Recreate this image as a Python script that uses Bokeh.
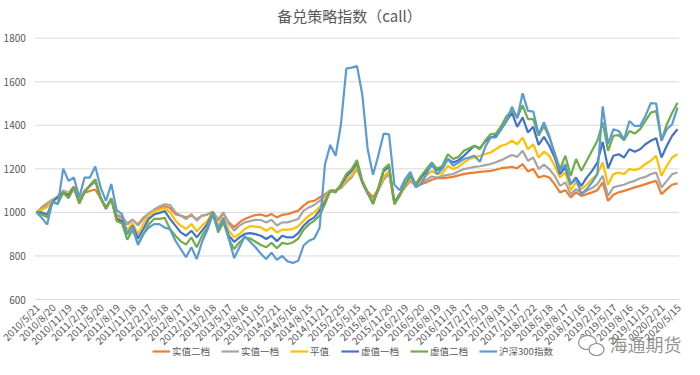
import math
from bokeh.plotting import figure
from bokeh.models import Legend, LegendItem, Label, Range1d
from bokeh.core.properties import value
from bokeh.embed import file_html
from bokeh.resources import INLINE

# ---------------- data ----------------
tick_labels = [
    "2010/5/21", "2010/8/20", "2010/11/19", "2011/2/18", "2011/5/20", "2011/8/19",
    "2011/11/18", "2012/2/17", "2012/5/18", "2012/8/17", "2012/11/16", "2013/2/18",
    "2013/5/17", "2013/8/16", "2013/11/15", "2014/2/21", "2014/5/16", "2014/8/15",
    "2014/11/21", "2015/2/25", "2015/5/15", "2015/8/21", "2015/11/20", "2016/2/19",
    "2016/5/20", "2016/8/19", "2016/11/18", "2017/2/17", "2017/5/19", "2017/8/18",
    "2017/11/17", "2018/2/22", "2018/5/18", "2018/8/17", "2018/11/16", "2019/2/15",
    "2019/5/17", "2019/8/16", "2019/11/15", "2020/2/21", "2020/5/15",
]
label_step = 3

series_names = ["实值二档", "实值一档", "平值", "虚值一档", "虚值二档", "沪深300指数"]

itm2 = [
    1000, 1020, 1035, 1055, 1070, 1092, 1085, 1110, 1055, 1090,
    1098, 1105, 1065, 1020, 1060, 985, 975, 945, 965, 945,
    975, 995, 1008, 1018, 1028, 1020, 992, 985, 977, 985,
    969, 985, 990, 1003, 962, 995, 954, 931, 954, 970,
    980, 988, 990, 982, 992, 977, 989, 992, 1000, 1008,
    1031, 1049, 1053, 1069, 1084, 1100, 1102, 1112, 1140, 1165,
    1200, 1140, 1095, 1069, 1107, 1160, 1183, 1038, 1084, 1115,
    1145, 1122, 1130, 1138, 1150, 1157, 1157, 1160, 1163, 1170,
    1176, 1180, 1183, 1186, 1188, 1191, 1196, 1203, 1206, 1209,
    1203, 1222, 1188, 1199, 1160, 1168, 1160, 1130, 1092, 1102,
    1069, 1092, 1076, 1084, 1092, 1102, 1138, 1053, 1081, 1092,
    1099, 1107, 1115, 1122, 1130, 1138, 1145, 1084, 1107, 1127, 1133,
]
itm1 = [
    1000, 1025, 1042, 1060, 1075, 1100, 1090, 1120, 1055, 1100,
    1120, 1140, 1070, 1025, 1065, 990, 980, 950, 968, 940,
    968, 995, 1012, 1028, 1037, 1034, 1000, 985, 969, 992,
    962, 985, 990, 1003, 969, 1000, 947, 916, 939, 954,
    960, 966, 965, 954, 966, 940, 954, 954, 962, 970,
    1008, 1023, 1034, 1053, 1076, 1100, 1102, 1115, 1140, 1160,
    1205, 1135, 1085, 1060, 1100, 1150, 1180, 1045, 1085, 1120,
    1150, 1120, 1135, 1150, 1165, 1160, 1168, 1172, 1176, 1188,
    1199, 1204, 1209, 1212, 1217, 1222, 1230, 1240, 1252, 1264,
    1255, 1283, 1237, 1252, 1199, 1219, 1199, 1168, 1122, 1138,
    1084, 1107, 1087, 1099, 1112, 1130, 1168, 1076, 1115, 1122,
    1127, 1138, 1145, 1157, 1163, 1176, 1183, 1115, 1145, 1176, 1183,
]
atm = [
    1000, 1012, 1025, 1055, 1072, 1095, 1085, 1118, 1052, 1098,
    1122, 1148, 1068, 1020, 1062, 975, 965, 920, 950, 900,
    947, 985, 1003, 1013, 1020, 1000, 962, 939, 924, 947,
    913, 939, 962, 1000, 939, 977, 916, 885, 901, 924,
    937, 935, 931, 916, 931, 908, 921, 921, 924, 936,
    962, 985, 1000, 1023, 1061, 1099, 1100, 1120, 1150, 1170,
    1215, 1140, 1090, 1050, 1105, 1165, 1190, 1050, 1080, 1125,
    1160, 1120, 1145, 1170, 1190, 1175, 1180, 1214, 1199, 1210,
    1229, 1245, 1252, 1260, 1268, 1275, 1290, 1306, 1313, 1329,
    1313, 1344, 1290, 1313, 1252, 1279, 1260, 1214, 1160, 1183,
    1102, 1138, 1107, 1127, 1153, 1176, 1229, 1127, 1176, 1183,
    1176, 1199, 1194, 1203, 1222, 1237, 1260, 1168, 1214, 1252, 1267,
]
otm1 = [
    1000, 1000, 990, 1050, 1070, 1092, 1078, 1115, 1045, 1095,
    1122, 1150, 1066, 1018, 1062, 970, 960, 900, 940, 880,
    924, 970, 990, 998, 1006, 970, 939, 908, 893, 916,
    885, 916, 947, 1000, 924, 962, 893, 865, 885, 901,
    905, 900, 893, 878, 893, 868, 893, 885, 885, 905,
    939, 962, 977, 1008, 1046, 1099, 1095, 1125, 1165, 1190,
    1228, 1140, 1090, 1040, 1110, 1190, 1210, 1045, 1080, 1130,
    1170, 1125, 1160, 1190, 1215, 1195, 1205, 1245, 1229, 1240,
    1260, 1283, 1306, 1295, 1325, 1344, 1352, 1382, 1420, 1458,
    1393, 1436, 1367, 1393, 1310, 1347, 1306, 1252, 1176, 1206,
    1130, 1160, 1122, 1160, 1191, 1229, 1324, 1203, 1260, 1267,
    1252, 1290, 1279, 1290, 1313, 1329, 1341, 1252, 1306, 1352, 1382,
]
otm2 = [
    1000, 990, 978, 1045, 1040, 1090, 1065, 1112, 1040, 1092,
    1125, 1152, 1065, 1015, 1060, 960, 950, 875, 920, 855,
    900, 945, 970, 970, 975, 924, 893, 867, 852, 885,
    840, 893, 931, 1000, 908, 954, 878, 832, 863, 885,
    880, 865, 850, 840, 860, 835, 860, 855, 862, 880,
    920, 945, 962, 985, 1038, 1099, 1092, 1130, 1176, 1199,
    1240, 1145, 1092, 1038, 1115, 1199, 1222, 1038, 1076, 1130,
    1176, 1130, 1168, 1199, 1229, 1200, 1215, 1267, 1245, 1255,
    1283, 1295, 1306, 1290, 1330, 1359, 1362, 1397, 1443, 1466,
    1436, 1492, 1428, 1428, 1352, 1397, 1344, 1275, 1199, 1260,
    1168, 1245, 1191, 1237, 1283, 1329, 1413, 1283, 1352, 1355,
    1332, 1374, 1362, 1382, 1420, 1458, 1466, 1329, 1405, 1458, 1504,
]
hs300 = [
    1000, 975, 944, 1053, 1038, 1201, 1145, 1160, 1069, 1160,
    1160, 1211, 1115, 1053, 1130, 1011, 992, 901, 939, 850,
    900, 930, 946, 946, 930, 923, 870, 832, 794, 840,
    786, 865, 920, 990, 920, 975, 880, 790, 840, 890,
    865, 840, 810, 786, 815, 782, 800, 775, 768, 778,
    848, 870, 880, 930, 1220, 1310, 1260, 1405, 1660, 1665,
    1672, 1540, 1290, 1173, 1262, 1362, 1358, 1127, 1102, 1153,
    1186, 1115, 1130, 1175, 1224, 1176, 1200, 1245, 1214, 1229,
    1245, 1252, 1260, 1232, 1300, 1344, 1344, 1382, 1420, 1485,
    1432, 1547, 1466, 1463, 1359, 1413, 1352, 1267, 1191, 1222,
    1130, 1153, 1084, 1107, 1138, 1176, 1487, 1313, 1382, 1374,
    1336, 1420, 1397, 1397, 1443, 1502, 1500, 1329, 1382, 1405, 1481,
]

y_ticks = [600, 800, 1000, 1200, 1400, 1600, 1800]

# ---------------- layout / styling ----------------
colors = ["#ED7D31", "#A5A5A5", "#FFC000", "#4472C4", "#70AD47", "#5B9BD5"]
FONT = "Noto Sans CJK SC"
TXT = "#595959"

W, H = 684, 359
first_pt_px, last_pt_px = 36.0, 677.0        # screen columns of first / last category
grid_top_px, grid_bottom_px = 37.7, 299.0    # screen rows of the top / bottom grid lines
grid_left_px, grid_right_px = 34.3, 678.5

n = len(hs300)
xs = list(range(n))
px_per_cat = (last_pt_px - first_pt_px) / (n - 1)
x_lo = -first_pt_px / px_per_cat
x_hi = x_lo + W / px_per_cat
units_per_px = (y_ticks[-1] - y_ticks[0]) / (grid_bottom_px - grid_top_px)
y_lo = y_ticks[0] - (H - grid_bottom_px) * units_per_px
y_hi = y_ticks[-1] + grid_top_px * units_per_px


def px2x(px):
    return x_lo + px / px_per_cat


def py2y(py):
    return y_hi - py * units_per_px


all_series = [itm2, itm1, atm, otm1, otm2, hs300]

p = figure(width=W, height=H, output_backend="svg", toolbar_location=None,
           title=None, x_axis_location=None, y_axis_location=None,
           x_range=Range1d(x_lo, x_hi), y_range=Range1d(y_lo, y_hi),
           min_border_left=0, min_border_right=0, min_border_top=0, min_border_bottom=0)

p.outline_line_color = None
p.background_fill_color = "white"
p.border_fill_color = "white"
p.xgrid.visible = False
p.ygrid.visible = False

# horizontal grid lines at the value ticks
g_left, g_right = px2x(grid_left_px), px2x(grid_right_px)
p.segment(x0=[g_left] * len(y_ticks), x1=[g_right] * len(y_ticks), y0=y_ticks, y1=y_ticks,
          line_color="#D9D9D9", line_width=1)

# value labels
p.text(x=[g_left] * len(y_ticks), y=y_ticks, text=[str(v) for v in y_ticks],
       text_align="right", text_baseline="middle", x_offset=-9,
       text_font=value(FONT), text_font_size=value("10px"), text_color=TXT)

# category (date) labels under the bottom grid line, rotated 45 degrees
tick_pos = list(range(0, n, label_step))
p.text(x=tick_pos, y=[y_ticks[0]] * len(tick_pos), text=tick_labels,
       angle=math.pi / 4, text_align="right", text_baseline="middle",
       x_offset=1, y_offset=6,
       text_font=value(FONT), text_font_size=value("10px"), text_color=TXT)

items = []
for name, vals, col in zip(series_names, all_series, colors):
    r = p.line(xs, vals, line_color=col, line_width=2.2)
    items.append(LegendItem(label=name, renderers=[r]))

legend = Legend(items=items, orientation="horizontal", location=(152, 1),
                label_text_font=FONT, label_text_font_size="9.5px", label_text_color=TXT,
                glyph_width=18, glyph_height=10, label_standoff=2, spacing=11,
                padding=1, margin=0, border_line_color=None, background_fill_alpha=0)
p.add_layout(legend)

title = Label(x=349, y=H - 15, x_units="screen", y_units="screen",
              text="备兑策略指数（call）", text_font=FONT, text_font_size="15px",
              text_color=TXT, text_align="center", text_baseline="middle")
p.add_layout(title)

# watermark (WeChat-style bubbles + account name)
p.ellipse(x=[px2x(587), px2x(596)], y=[py2y(342), py2y(349)], width=[18, 15], height=[14, 12],
          width_units="screen", height_units="screen",
          fill_color="white", fill_alpha=0.9, line_color="#8C8C8C", line_width=1.2)
wm = Label(x=609, y=H - 343, x_units="screen", y_units="screen", text="海通期货",
           text_font=FONT, text_font_size="18px", text_color="#7F7F7F",
           text_alpha=0.85, text_baseline="middle", text_align="left")
p.add_layout(wm)

open("out.html", "w").write(file_html(p, INLINE))
